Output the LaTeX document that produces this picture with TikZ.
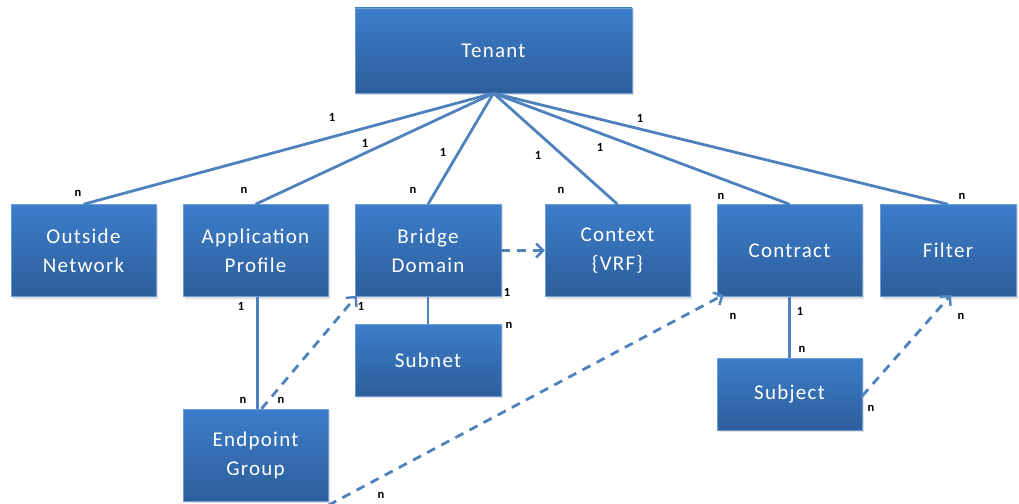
\documentclass[tikz,border=0pt]{standalone}
\usepackage{fontspec}
\setmainfont{Carlito}
\usetikzlibrary{shadows,arrows.meta}

\definecolor{boxtop}{RGB}{60,125,202}
\definecolor{boxbot}{RGB}{45,94,154}
\definecolor{linkblue}{RGB}{79,129,189}

\tikzset{
  entity/.style={rectangle, top color=boxtop, bottom color=boxbot,
    draw=boxtop!75!white, line width=0.5pt, text=white, align=center,
    inner sep=0pt, minimum width=145pt, minimum height=92pt,
    font=\addfontfeatures{LetterSpace=6}\fontsize{21}{29}\selectfont,
    drop shadow={shadow xshift=1.5pt, shadow yshift=-2pt, opacity=0.25}},
  link/.style={draw=linkblue, line width=2.8pt},
  ref/.style={link, dash pattern=on 9pt off 7pt,
    -{Straight Barb[length=7pt, width=14pt, line width=2.4pt]}},
  card/.style={inner sep=0pt, font=\bfseries\fontsize{12.5}{13}\selectfont}
}

\begin{document}
\begin{tikzpicture}[x=1pt, y=-1pt]
\useasboundingbox (0,0) rectangle (1019,503);

% boxes
\node[entity, minimum width=277pt, minimum height=85pt] (tenant) at (493.5,50.5) {Tenant};
\node[entity] (outside) at (83.5,250.5) {Outside\\Network};
\node[entity] (approf) at (255.5,250.5) {Application\\Profile};
\node[entity, minimum width=146pt] (bridge) at (428,250.5) {Bridge\\Domain};
\node[entity] (context) at (617.5,250.5) {Context\\\{VRF\}};
\node[entity] (contract) at (789.5,250.5) {Contract};
\node[entity, minimum width=136pt] (filter) at (948,250.5) {Filter};
\node[entity, minimum width=146pt, minimum height=72pt] (subnet) at (428,360) {Subnet};
\node[entity, minimum height=72pt] (subject) at (789.5,394) {Subject};
\node[entity] (epg) at (255.5,455) {Endpoint\\Group};

% tenant links
\draw[link] (tenant.south) -- (outside.north);
\draw[link] (tenant.south) -- (approf.north);
\draw[link] (tenant.south) -- (bridge.north);
\draw[link] (tenant.south) -- (context.north);
\draw[link] (tenant.south) -- (contract.north);
\draw[link] (tenant.south) -- (filter.north);

% other links
\draw[link] ([xshift=2pt]approf.south) -- ([xshift=2pt]epg.north);
\draw[link] (bridge.south) -- (subnet.north);
\draw[link] (contract.south) -- (subject.north);

% references
\draw[ref] ([xshift=6pt]epg.north) -- ([xshift=2pt,yshift=1pt]bridge.south west);
\draw[ref] (bridge.east) -- (context.west);
\draw[ref] ([yshift=-4pt]epg.south east) -- ([xshift=7pt,yshift=2pt]contract.south west);
\draw[ref] ([yshift=-2pt]subject.east) -- ([xshift=3pt,yshift=2pt]filter.south);

% cardinalities
\node[card] (c1) at (332,117) {1};
\node[card] (c2) at (78,193) {n};
\node[card] (c3) at (365,143) {1};
\node[card] (c4) at (244,190) {n};
\node[card] (c5) at (443,152) {1};
\node[card] (c6) at (413,190) {n};
\node[card] (c7) at (538,155) {1};
\node[card] (c8) at (561,190) {n};
\node[card] (c9) at (600,147) {1};
\node[card] (c10) at (721,196) {n};
\node[card] (c11) at (640,118) {1};
\node[card] (c12) at (962,196) {n};
\node[card] (c13) at (241,306) {1};
\node[card] (c14) at (243,400) {n};
\node[card] (c15) at (281,400) {n};
\node[card] (c16) at (361,306) {1};
\node[card] (c17) at (507,292) {1};
\node[card] (c18) at (509,325) {n};
\node[card] (c19) at (381,495) {n};
\node[card] (c20) at (733,316) {n};
\node[card] (c21) at (800,311) {1};
\node[card] (c22) at (802,349) {n};
\node[card] (c23) at (871,408) {n};
\node[card] (c24) at (961,316) {n};
\end{tikzpicture}
\end{document}
